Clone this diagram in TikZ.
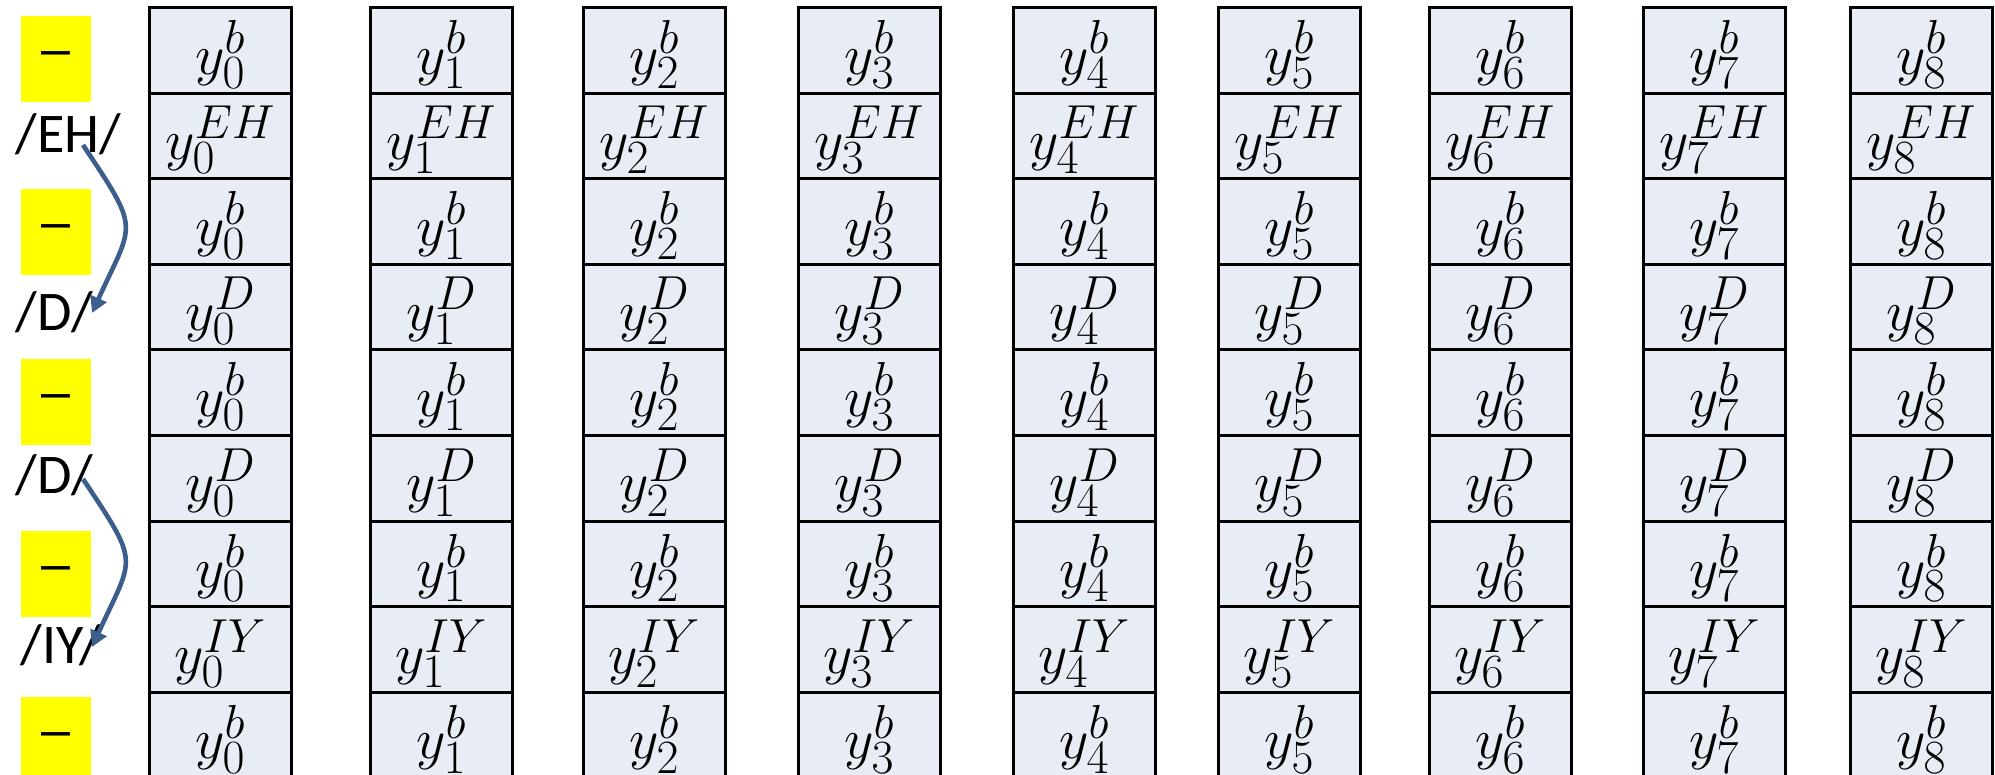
\documentclass[tikz,border=0pt]{standalone}
\usepackage{fontspec}
\newfontfamily\labfont{Carlito}
\newfontfamily\dashfont{Liberation Sans}
\usetikzlibrary{arrows.meta}
\definecolor{cellfill}{HTML}{E8ECF4}
\definecolor{arrowblue}{HTML}{3B5E8C}
\definecolor{hl}{HTML}{FFFF00}
\begin{document}
\begin{tikzpicture}[x=0.5pt,y=-0.5pt,
  cell/.style={draw=black, line width=1.5pt, fill=cellfill,
    minimum width=71pt, minimum height=42.8pt, inner sep=0pt,
    anchor=north west, font=\fontsize{24.88}{30}\selectfont},
  hlbox/.style={fill=hl, minimum width=35pt, minimum height=43pt,
    inner sep=0pt, anchor=north west, font=\dashfont\fontsize{26}{30}\selectfont},
  lab/.style={inner sep=0pt, anchor=base west, font=\labfont\fontsize{28}{32}\selectfont},
  arr/.style={draw=arrowblue, line width=2.3pt,
    -{Triangle[length=8pt,width=8.5pt]}}]
\useasboundingbox (0,0) rectangle (1995,775);
\fill[white] (0,0) rectangle (1995,775);
% cells
\foreach \c/\x in {0/148,1/369,2/582,3/797,4/1012,5/1217,6/1428,7/1642,8/1849}{
  \foreach \r/\s in {0/b,1/EH,2/b,3/D,4/b,5/D,6/b,7/IY,8/b}{
    \node[cell] (c\c r\r) at (\x,{6+85.6*\r}) {\raisebox{-2pt}[\height][\depth]{\scalebox{1.15}{$y_{\c}^{\s}$}}};
  }
}
% yellow boxes
\node[hlbox] (h0) at (21,16) {–};
\node[hlbox] (h1) at (21,189) {–};
\node[hlbox] (h2) at (21,359) {–};
\node[hlbox] (h3) at (21,531) {–};
\node[hlbox] (h4) at (21,697) {–};
% phoneme labels
\node[lab] (eh) at (15,153) {/EH/};
\node[lab] (d1) at (15,330) {/D/};
\node[lab] (d2) at (15,493) {/D/};
\node[lab] (iy) at (20,663) {/IY/};
% arrows
\coordinate (a1s) at (83,145);
\coordinate (a1e) at (92,313);
\coordinate (a2s) at (83,479);
\coordinate (a2e) at (92,647);
\draw[arr] (a1s) .. controls (141,232) and (134,221) .. (a1e);
\draw[arr] (a2s) .. controls (141,566) and (134,555) .. (a2e);
\end{tikzpicture}
\end{document}
